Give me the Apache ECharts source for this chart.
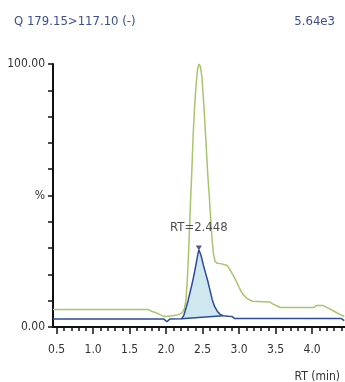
<!DOCTYPE html>
<html>
<head>
<meta charset="utf-8">
<script src="https://cdn.jsdelivr.net/npm/echarts@6/dist/echarts.min.js"></script>
<style>html,body{margin:0;padding:0;background:#fff;}#c{width:345px;height:382px;}</style>
</head>
<body>
<div id="c"></div>
<script>
// ---- data ----
var greenRT  = [0.45,1.75,1.80,1.88,1.95,2.00,2.08,2.15,2.19,2.22,2.25,2.27,2.29,2.31,2.33,2.35,2.37,2.39,2.41,2.43,2.45,2.47,2.49,2.51,2.53,2.55,2.57,2.59,2.61,2.63,2.65,2.67,2.70,2.76,2.83,2.87,2.91,2.95,3.00,3.05,3.10,3.18,3.42,3.46,3.56,4.02,4.06,4.15,4.22,4.30,4.38,4.44];
var greenPct = [6.7,6.7,6.0,5.2,4.2,4.0,4.3,4.6,5.0,5.5,7,10,18,30,45,58,73,84,92,98,100,99,95,87,78,68,58,50,41,33,27.5,25,24.2,24,23.5,22,20,18,15,12.5,11,9.8,9.5,8.8,7.4,7.4,8.2,8.2,7.2,6.0,4.8,4.0];
var blueRT   = [0.45,1.97,2.01,2.05,2.21,2.24,2.27,2.30,2.33,2.36,2.39,2.42,2.44,2.45,2.46,2.48,2.51,2.54,2.57,2.60,2.63,2.66,2.70,2.74,2.78,2.85,2.90,2.94,4.40,4.44];
var bluePct  = [3.0,3.0,2.0,3.0,3.1,4.3,7.0,10.0,13.5,17.0,21.0,25.5,28.5,29.3,28.8,27.0,23.5,20.5,17.5,14.0,10.5,8.0,6.0,4.8,4.3,4.1,4.0,3.2,3.2,2.4];
var peakStart = [2.21, 3.1];
var peakEnd   = [2.78, 4.3];
var peakApex  = [2.448, 29.3];
var peakLabel = 'RT=2.448';
var xTickLabels = [0.5,1.0,1.5,2.0,2.5,3.0,3.5,4.0];
var yTickLabels = {0:'0.00', 50:'%', 100:'100.00'};
var titleText = 'Q 179.15>117.10 (-)';
var scaleText = '5.64e3';
var xName = 'RT (min)';

var FONT = "'Liberation Sans Narrow','DejaVu Sans Condensed',sans-serif";
var FS = 12;
var minorTicks = [];
for (var i = 5; i <= 44; i++) { if (i % 5 !== 0) minorTicks.push(i / 10); }

function zip(a, b) { return a.map(function (v, i) { return [v, b[i]]; }); }

var chart = echarts.init(document.getElementById('c'), null, {renderer: 'canvas'});
chart.setOption({
  animation: false,
  backgroundColor: '#fff',
  title: [
    {text: titleText, left: 9, top: 10, textStyle: {fontSize: 13, fontWeight: 'normal', color: '#3d4f8f', fontFamily: FONT}},
    {text: scaleText, right: 5, top: 10, textStyle: {fontSize: 13, fontWeight: 'normal', color: '#3d4f8f', fontFamily: FONT}},
    {text: xName, right: 0, top: 366, textStyle: {fontSize: FS, fontWeight: 'normal', color: '#333', fontFamily: FONT}}
  ],
  grid: {left: 53, right: 0, top: 64, bottom: 55},
  xAxis: [{
    type: 'value', min: 0.45, max: 4.45, position: 'bottom',
    axisLine: {show: true, lineStyle: {color: '#111', width: 2}},
    axisTick: {show: true, customValues: xTickLabels, length: 7, lineStyle: {color: '#111', width: 1.5}},
    axisLabel: {customValues: xTickLabels, margin: 17, fontSize: FS, color: '#333', fontFamily: FONT,
      formatter: function (v) { return v.toFixed(1); }},
    splitLine: {show: false}
  }, {
    type: 'value', min: 0.45, max: 4.45, position: 'bottom', offset: 0,
    axisLine: {show: false},
    axisTick: {show: true, customValues: minorTicks, length: 4, lineStyle: {color: '#111', width: 1.5}},
    axisLabel: {show: false},
    splitLine: {show: false}
  }],
  yAxis: {
    type: 'value', min: 0, max: 100, interval: 10,
    axisLine: {show: true, lineStyle: {color: '#111', width: 2}},
    axisTick: {show: true, length: 5, lineStyle: {color: '#111', width: 1.5}},
    axisLabel: {margin: 8, fontSize: FS, color: '#333', fontFamily: FONT,
      formatter: function (v) { return yTickLabels[v] || ''; }},
    splitLine: {show: false}
  },
  series: [
    {
      type: 'line', name: 'green', data: zip(greenRT, greenPct), showSymbol: false, symbol: 'none',
      lineStyle: {color: '#a9c56c', width: 1.5}, z: 2
    },
    {
      type: 'custom', name: 'fill', data: [peakApex], z: 3,
      renderItem: function (params, api) {
        var pts = [];
        for (var i = 0; i < blueRT.length; i++) {
          if (blueRT[i] >= peakStart[0] && blueRT[i] <= peakEnd[0]) pts.push(api.coord([blueRT[i], bluePct[i]]));
        }
        var a = api.coord(peakStart), b = api.coord(peakEnd);
        return {
          type: 'group',
          children: [
            {type: 'polygon', shape: {points: pts.concat([b, a])}, style: {fill: '#cfe7ef', stroke: null}},
            {type: 'line', shape: {x1: a[0], y1: a[1], x2: b[0], y2: b[1]}, style: {stroke: '#2d4b9b', lineWidth: 1.5}}
          ]
        };
      }
    },
    {
      type: 'line', name: 'blue', data: zip(blueRT, bluePct), showSymbol: false, symbol: 'none',
      lineStyle: {color: '#2d4b9b', width: 1.5}, z: 4
    },
    {
      type: 'scatter', name: 'apex', data: [peakApex], symbol: 'triangle', symbolRotate: 180,
      symbolSize: [6, 5], symbolOffset: [0, -2], itemStyle: {color: '#1f2f6b'}, z: 5,
      label: {show: true, position: 'top', distance: 11, formatter: peakLabel, fontSize: 13, color: '#222', fontFamily: FONT}
    }
  ]
});
</script>
</body>
</html>
